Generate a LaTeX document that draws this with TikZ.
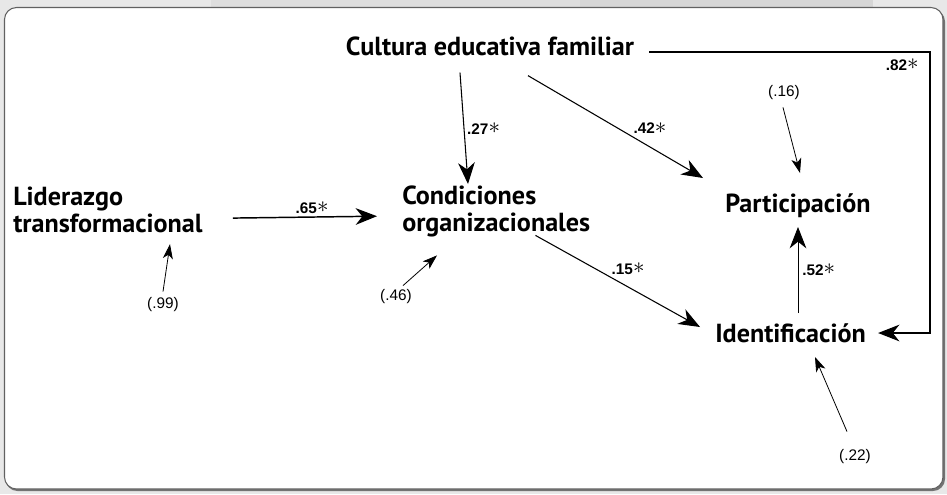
\documentclass[tikz,border=0pt]{standalone}
\usepackage{fontspec}
\setmainfont{Liberation Sans}
\newfontfamily\constructofont{PT Sans}
\usetikzlibrary{arrows.meta}

\newcommand{\signif}[1]{\textbf{#1}\raisebox{.1ex}{\fontsize{16}{16}\selectfont$\ast$}}

\begin{document}
\begin{tikzpicture}[x=0.75pt,y=0.75pt,yscale=-1,xscale=1,
  constructo/.style={inner sep=0pt, align=left, font=\constructofont\bfseries\fontsize{19.6}{20}\selectfont},
  coef/.style={inner sep=0pt, font=\fontsize{11.5}{12}\selectfont},
  resid/.style={inner sep=0pt, font=\fontsize{11.5}{12}\selectfont},
  flecha/.style={line width=0.8pt, -{Stealth[length=16pt,width=12.5pt,inset=5pt]}},
  flechaerr/.style={line width=0.6pt, -{Stealth[length=11pt,width=7.5pt,inset=3pt]}}]
\useasboundingbox (0,0) rectangle (947,494);

%Background
\fill[black!9] (0,0) rectangle (947,494);
\fill[black!13] (211,0) rectangle (580,8);
\fill[black!16] (580,0) rectangle (873,8);
%Shape: Rounded Rectangle
\fill[black!55, rounded corners=9pt] (5.5,9.5) rectangle (945,491);
\draw[fill=white, draw=black!62, line width=0.8pt, rounded corners=9pt] (4.5,7.5) rectangle (943,489);

% Text Node
\node[constructo, anchor=base] (cultura) at (490,55) {Cultura educativa familiar};
% Text Node
\node[constructo, anchor=north west] (liderazgo) at (13,187) {Liderazgo\\transformacional};
% Text Node
\node[constructo, anchor=north west] (condiciones) at (402,186) {Condiciones\\organizacionales};
% Text Node
\node[constructo, anchor=base west] (participacion) at (725,212) {Participación};
% Text Node
\node[constructo, anchor=base west] (identificacion) at (715,342) {Identificación};

% Text Node
\node[resid] (e99) at (163,305) {(.99)};
% Text Node
\node[resid] (e46) at (396,297) {(.46)};
% Text Node
\node[resid] (e16) at (784,93) {(.16)};
% Text Node
\node[resid] (e22) at (855,457) {(.22)};

%Straight Lines
\draw[flecha, line width=1.1pt] ([shift={(30,8)}]liderazgo.east) -- node[coef, pos=0.55, anchor=south, yshift=2pt] {\signif{.65}} ([shift={(-25,4.5)}]condiciones.west);
%Straight Lines
\draw[flecha] ([shift={(-30,17)}]cultura.south) -- node[coef, pos=0.5, anchor=west, xshift=2pt] {\signif{.27}} ([shift={(66,-2)}]condiciones.north west);
%Straight Lines
\draw[flecha] ([shift={(38,20)}]cultura.south) -- node[coef, pos=0.6, anchor=south west, yshift=2pt] {\signif{.42}} ([shift={(-22,-34)}]participacion.base west);
%Straight Lines
\draw[flecha] ([shift={(-55,-2)}]condiciones.south east) -- node[coef, pos=0.46, anchor=south west, yshift=2pt] {\signif{.15}} ([shift={(-15,-15)}]identificacion.base west);
%Straight Lines
\draw[flecha, line width=0.6pt] ([shift={(83,-29)}]identificacion.base west) -- node[coef, pos=0.5, anchor=west, xshift=3pt] {\signif{.52}} ([shift={(73,15)}]participacion.base west);
%Straight Lines
\draw[flecha, line width=1pt] ([shift={(15,-3)}]cultura.base east) -| node[coef, anchor=north east, xshift=-8pt, yshift=-4.5pt] {\signif{.82}} ([shift={(64,-9)}]identificacion.base east) -- ([shift={(12,-9)}]identificacion.base east);

%Straight Lines
\draw[flechaerr] ([shift={(0,-6)}]e99.north) -- ([shift={(157,11)}]liderazgo.south west);
%Straight Lines
\draw[flechaerr] ([shift={(7,-4)}]e46.north) -- ([shift={(35,18)}]condiciones.south west);
%Straight Lines
\draw[flechaerr] ([shift={(-1,7)}]e16.south) -- ([shift={(75,-39)}]participacion.base west);
%Straight Lines
\draw[flechaerr] ([shift={(-8,-18)}]e22.north) -- ([shift={(100,15)}]identificacion.base west);

\end{tikzpicture}
\end{document}
